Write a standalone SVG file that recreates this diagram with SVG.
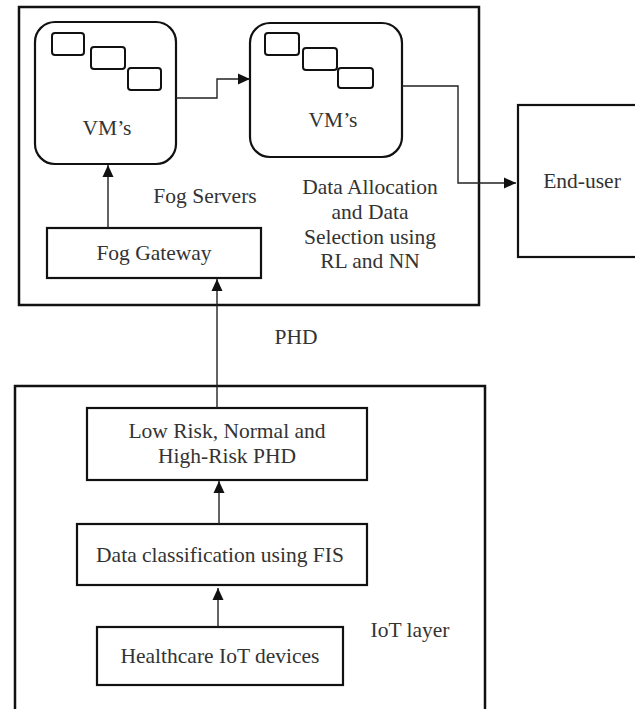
<svg xmlns="http://www.w3.org/2000/svg" width="635" height="709" viewBox="0 0 635 709">
<style>
.frame{fill:none;stroke:#111;stroke-width:2.5}
.box{fill:#fff;stroke:#111;stroke-width:2.2}
.mini{fill:#fff;stroke:#111;stroke-width:2}
.conn{fill:none;stroke:#222;stroke-width:1.4}
.t{font-family:"Liberation Serif","Times New Roman",serif;font-size:21.5px;fill:#333;text-anchor:middle}
</style>
<defs>
<marker id="ah" viewBox="0 0 12 12" refX="12" refY="6" markerWidth="12" markerHeight="12" markerUnits="userSpaceOnUse" orient="auto">
<path d="M0,0.5 L12,6 L0,11.5 Z" fill="#111"/>
</marker>
</defs>
<g id="fog-layer">
<rect class="frame" x="19" y="7" width="460" height="298"/>
<text class="t" x="205" y="203">Fog Servers</text>
<text class="t" x="370" y="194">Data Allocation</text>
<text class="t" x="370" y="219">and Data</text>
<text class="t" x="370" y="244">Selection using</text>
<text class="t" x="370" y="268">RL and NN</text>
</g>
<g id="iot-layer">
<path class="frame" d="M15,712 V386 H485 V712"/>
<text class="t" x="410" y="637">IoT layer</text>
</g>
<g id="vm1">
<rect class="box" x="35" y="22" width="141" height="142" rx="20"/>
<rect class="mini" x="52" y="33" width="32" height="22" rx="3"/>
<rect class="mini" x="91" y="47" width="34" height="22" rx="3"/>
<rect class="mini" x="128" y="68" width="33" height="22" rx="3"/>
<text class="t" x="107" y="135">VM’s</text>
</g>
<g id="vm2">
<rect class="box" x="250" y="23" width="152" height="134" rx="20"/>
<rect class="mini" x="265" y="33" width="34" height="22" rx="3"/>
<rect class="mini" x="303" y="48" width="34" height="22" rx="3"/>
<rect class="mini" x="338" y="68" width="35" height="20" rx="3"/>
<text class="t" x="333" y="127">VM’s</text>
</g>
<g id="end-user">
<rect class="box" x="518" y="105" width="130" height="152"/>
<text class="t" x="582" y="188">End-user</text>
</g>
<g id="fog-gateway">
<rect class="box" x="47" y="228" width="214" height="50"/>
<text class="t" x="154" y="260">Fog Gateway</text>
</g>
<g id="phd-box">
<rect class="box" x="87" y="408" width="280" height="72"/>
<text class="t" x="227" y="438">Low Risk, Normal and</text>
<text class="t" x="227" y="463">High-Risk PHD</text>
</g>
<g id="classification">
<rect class="box" x="77" y="524" width="290" height="61"/>
<text class="t" x="220" y="562">Data classification using FIS</text>
</g>
<g id="iot-devices">
<rect class="box" x="97" y="627" width="246" height="58"/>
<text class="t" x="220" y="663">Healthcare IoT devices</text>
</g>
<g id="connectors">
<path class="conn" d="M176,98 H217 V79 H250" marker-end="url(#ah)"/>
<path class="conn" d="M402,86 H458 V183 H516" marker-end="url(#ah)"/>
<path class="conn" d="M108,228 V165" marker-end="url(#ah)"/>
<path class="conn" d="M217,408 V279" marker-end="url(#ah)"/>
<path class="conn" d="M219,524 V481" marker-end="url(#ah)"/>
<path class="conn" d="M218,627 V588" marker-end="url(#ah)"/>
<text class="t" x="296" y="344">PHD</text>
</g>
</svg>
